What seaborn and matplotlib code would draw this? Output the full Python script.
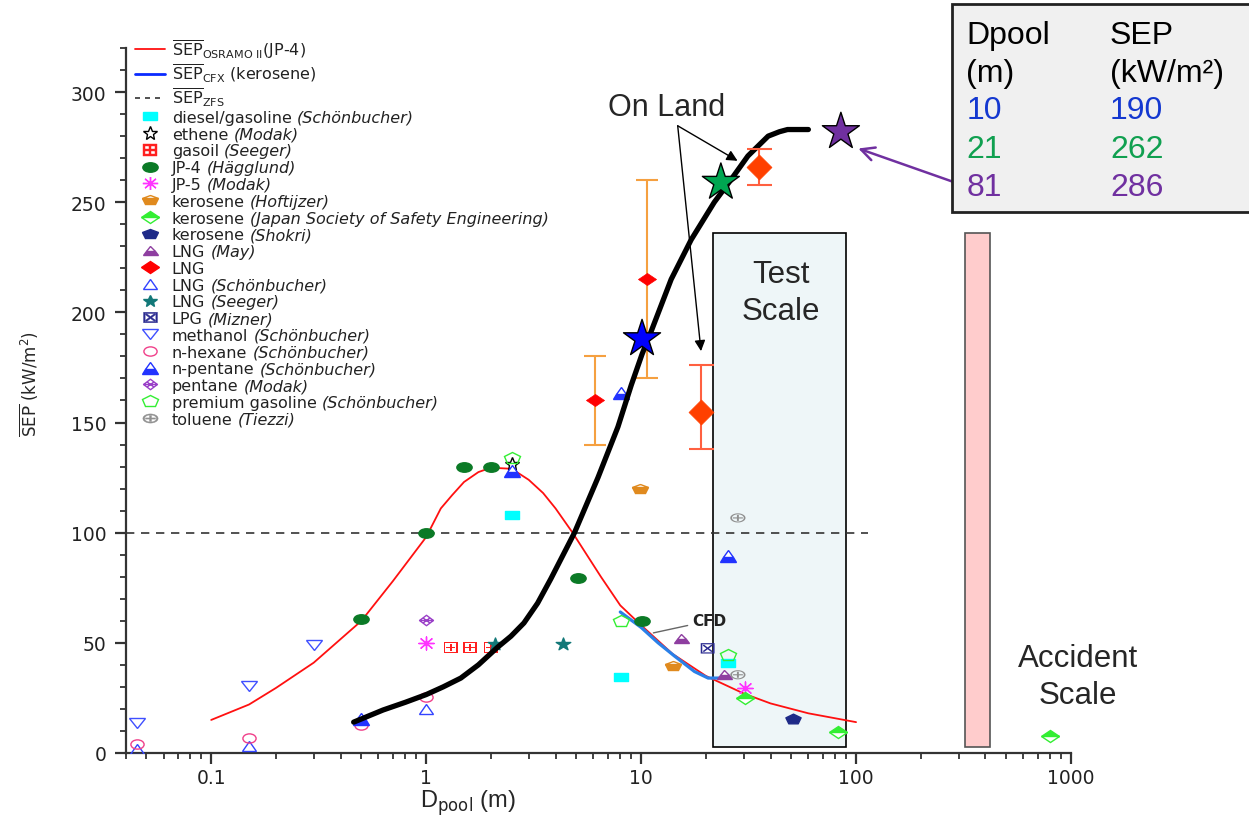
import numpy as np
import matplotlib
matplotlib.use("Agg")
import matplotlib.pyplot as plt
import seaborn as sns
from matplotlib.lines import Line2D
from matplotlib.markers import MarkerStyle
from matplotlib.patches import Rectangle
from matplotlib.path import Path
from matplotlib.transforms import Affine2D
from matplotlib.ticker import FixedLocator, LogLocator, NullFormatter, MultipleLocator

# ---- model curves ----
osramo_d = [0.1, 0.15, 0.2, 0.3, 0.5, 0.7, 1.0, 1.17, 1.32, 1.5, 1.75, 2.0, 2.5, 3.0, 3.5, 4.0,
            4.8, 6.5, 8.0, 10, 14, 20, 30, 40, 60, 100]
osramo_sep = [15, 22, 29.5, 41, 60, 78, 98, 111, 117, 123, 127.5, 129.5, 129, 124, 118, 111,
              100, 80, 67, 58, 45, 35, 27, 22.5, 18, 14]
cfx_d = [8.0, 10, 12, 14.3, 17.7, 20.5, 23]
cfx_sep = [64, 57, 50, 44, 37, 34, 34]
zfs_d = [0.04, 114]
zfs_sep = [100, 100]
trend_d = [0.46, 0.63, 0.8, 1.0, 1.2, 1.45, 1.75, 2.15, 2.48, 2.85, 3.3, 3.8, 4.9, 6.3, 7.8,
           9.0, 10.1, 11.1, 13.8, 17.1, 21.9, 26.3, 31.4, 39, 44, 48, 60]
trend_sep = [14, 19.5, 23, 26.5, 30, 34, 40, 48, 53, 59, 68, 79, 100, 125, 148,
             167, 181, 191, 215, 233, 250, 260.5, 271, 280, 282, 283, 283]

# ---- experimental data ----
diesel_d, diesel_sep = [2.5, 8.1, 25.5], [108, 34.5, 41]
ethene_d, ethene_sep = [2.5], [131]
gasoil_d, gasoil_sep = [1.3, 1.6, 2.0], [48, 48, 48]
jp4_d, jp4_sep = [0.5, 1.0, 1.5, 2.0, 5.1, 10.1], [61, 100, 130, 130, 79.5, 60]
jp5_d, jp5_sep = [1.0, 30.5], [50, 29.5]
hoft_d, hoft_sep = [9.9, 14.0], [120, 39.5]
jsse_d, jsse_sep = [30.5, 82, 800], [25, 9.5, 7.5]
shokri_d, shokri_sep = [51], [15.5]
may_d, may_sep = [15.3, 24.4], [52, 36]
lng_d, lng_sep = [6.1, 10.7], [160, 215]
lng_lo, lng_hi = [140, 170], [180, 260]
lng_sch_d, lng_sch_sep = [0.045, 0.15, 1.0], [2, 3, 20]
seeger_d, seeger_sep = [2.1, 4.35], [49.5, 49.5]
lpg_d, lpg_sep = [20.4], [47.5]
methanol_d, methanol_sep = [0.045, 0.15, 0.3], [13.5, 30.5, 49]
hexane_d, hexane_sep = [0.045, 0.15, 0.5, 1.0], [4, 7, 12.5, 25.5]
npent_d, npent_sep = [0.5, 2.5, 8.1, 25.5], [15.5, 128, 163.5, 89.5]
pentane_d, pentane_sep = [1.0], [60.5]
premium_d, premium_sep = [2.5, 8.1, 25.5], [134, 60, 44.5]
toluene_d, toluene_sep = [28.2, 28.2], [106.7, 35.5]

# LNG on land (overlay) and the three highlighted cases
onland_d, onland_sep = [19, 35.3], [155, 266]
onland_lo, onland_hi = [138, 258], [176, 274]
star_d, star_sep = [10.1, 23.5, 85], [188, 259, 282]
star_colors = ["#0000ff", "#00a651", "#7030a0"]

table_dpool = ["10", "21", "81"]
table_sep = ["190", "262", "286"]
table_colors = ["#1438d0", "#10a050", "#7030a0"]

test_scale = (21.7, 90)
accident_scale = (320, 419)

# ---- style ----
sns.set_style("ticks")
plt.rcParams["font.family"] = ["Liberation Sans", "DejaVu Sans"]
plt.rcParams["mathtext.fontset"] = "dejavusans"

fig, ax = plt.subplots(figsize=(12.49, 8.28), dpi=100)
fig.subplots_adjust(left=0.1006, right=0.8575, bottom=0.0894, top=0.9408)
ax.set_xscale("log")


def squash(m, fill="full", sy=0.65):
    return MarkerStyle(m, fillstyle=fill, transform=Affine2D().scale(1.0, sy))


pent_path = Path([(0, 1), (1, 0), (0, -1), (-1, 0), (0, 1),
                  (-0.5, 0.5), (0.5, -0.5), (0.5, 0.5), (-0.5, -0.5), (-1, 0), (1, 0)],
                 [Path.MOVETO, Path.LINETO, Path.LINETO, Path.LINETO, Path.CLOSEPOLY,
                  Path.MOVETO, Path.LINETO, Path.MOVETO, Path.LINETO, Path.MOVETO, Path.LINETO])

# scale regions
ax.add_patch(Rectangle((test_scale[0], 2.6), test_scale[1] - test_scale[0], 233.6,
                       facecolor="#eef6f8", edgecolor="black", lw=1.2, zorder=1))
ax.add_patch(Rectangle((accident_scale[0], 2.6), accident_scale[1] - accident_scale[0], 233.6,
                       facecolor="#ffcccc", edgecolor="#555555", lw=1.2, zorder=1))

# curves
sns.lineplot(x=zfs_d, y=zfs_sep, color="#333333", lw=1.2, linestyle=(0, (5, 4)),
             estimator=None, sort=False, ax=ax, zorder=2)
sns.lineplot(x=osramo_d, y=osramo_sep, color="#ff1010", lw=1.3,
             estimator=None, sort=False, ax=ax, zorder=3)
sns.lineplot(x=cfx_d, y=cfx_sep, color="#2a80e8", lw=2.3,
             estimator=None, sort=False, ax=ax, zorder=3)

# series: (d, sep, marker, ms, face, edge, name, author)
series = [
    (diesel_d, diesel_sep, squash("s", sy=0.62), 9.5, "#00ffff", "#00ffff",
     "diesel/gasoline", "(Schönbucher)"),
    (ethene_d, ethene_sep, squash("*", sy=0.9), 11, "none", "black", "ethene", "(Modak)"),
    (gasoil_d, gasoil_sep, squash(r"$\boxplus$", sy=0.8), 10, "#ff2020", "#ff2020",
     "gasoil", "(Seeger)"),
    (jp4_d, jp4_sep, squash("o", sy=0.62), 11, "#0b7a26", "#0b7a26", "JP-4", "(Hägglund)"),
    (jp5_d, jp5_sep, squash((8, 2, 0), sy=0.85), 11, "#ff33ff", "#ff33ff", "JP-5", "(Modak)"),
    (hoft_d, hoft_sep, squash("p", fill="bottom", sy=0.65), 12, "#e08a1e", "#e08a1e",
     "kerosene", "(Hoftijzer)"),
    (jsse_d, jsse_sep, squash("D", fill="top", sy=0.7), 8.7, "#33ee33", "#33ee33",
     "kerosene", "(Japan Society of Safety Engineering)"),
    (shokri_d, shokri_sep, squash("p", sy=0.67), 11.5, "#1e2a88", "#1e2a88",
     "kerosene", "(Shokri)"),
    (may_d, may_sep, squash("^", fill="bottom", sy=0.6), 10.8, "#8e3ea0", "#8e3ea0",
     "LNG", "(May)"),
    (None, None, squash("D", sy=0.67), 9.2, "#ff0000", "#ff0000", "LNG", ""),
    (lng_sch_d, lng_sch_sep, squash("^", sy=0.7), 9.5, "none", "#3344ff",
     "LNG", "(Schönbucher)"),
    (seeger_d, seeger_sep, squash("*", sy=0.85), 11, "#127878", "#127878", "LNG", "(Seeger)"),
    (lpg_d, lpg_sep, squash(r"$\boxtimes$", sy=0.75), 10, "#2a2a90", "#2a2a90",
     "LPG", "(Mizner)"),
    (methanol_d, methanol_sep, squash("v", sy=0.6), 12, "none", "#3f4fff",
     "methanol", "(Schönbucher)"),
    (hexane_d, hexane_sep, squash("o", sy=0.7), 9.5, "none", "#f0408a",
     "n-hexane", "(Schönbucher)"),
    (npent_d, npent_sep, squash("^", fill="bottom", sy=0.75), 12, "#2233ff", "#2233ff",
     "n-pentane", "(Schönbucher)"),
    (pentane_d, pentane_sep, squash(pent_path, sy=0.75), 10, "none", "#9a40c8",
     "pentane", "(Modak)"),
    (premium_d, premium_sep, squash("p", sy=0.7), 12, "none", "#33ee33",
     "premium gasoline", "(Schönbucher)"),
    (toluene_d, toluene_sep, squash(r"$\oplus$", sy=0.6), 11, "#909090", "#909090",
     "toluene", "(Tiezzi)"),
]

handles = [Line2D([], [], color="#ff1010", lw=1.3),
           Line2D([], [], color="#0a2aff", lw=2.0),
           Line2D([], [], color="#333333", lw=1.2, linestyle=(0, (3, 3)))]
labels = [r"$\overline{\mathrm{SEP}}_{\mathrm{OSRAMO\ II}}$(JP-4)",
          r"$\overline{\mathrm{SEP}}_{\mathrm{CFX}}$ (kerosene)",
          r"$\overline{\mathrm{SEP}}_{\mathrm{ZFS}}$"]
authors = ["", "", ""]

for d, sep, mk, ms, face, edge, name, author in series:
    is_text = isinstance(mk.get_marker(), str) and mk.get_marker().startswith("$")
    mew = 0.3 if is_text else 1.0
    if d is not None:
        if mk.get_fillstyle() == "full" and face != "none":
            sns.scatterplot(x=d, y=sep, marker=mk, s=ms ** 2, color=face,
                            edgecolor=edge if not is_text else "none", linewidth=mew,
                            ax=ax, zorder=4, legend=False)
        else:
            ax.plot(d, sep, linestyle="none", marker=mk, ms=ms, mfc=face, mec=edge,
                    mfcalt="white", mew=mew, zorder=4)
    handles.append(Line2D([], [], linestyle="none", marker=mk, ms=ms, mfc=face,
                          mec=edge, mfcalt="white", mew=mew))
    labels.append(name)
    authors.append(author)

# LNG with error bars
ax.errorbar(lng_d, lng_sep,
            yerr=[np.subtract(lng_sep, lng_lo), np.subtract(lng_hi, lng_sep)],
            fmt="none", ecolor="#f5a040", elinewidth=1.5, capsize=8, capthick=1.5, zorder=3)
sns.scatterplot(x=lng_d, y=lng_sep, marker=squash("D", sy=0.67), s=9.2 ** 2, color="#ff0000",
                edgecolor="#ff0000", linewidth=0.5, ax=ax, zorder=4, legend=False)

# CFD tag
ax.annotate("CFD", xy=(11.4, 54.5), xytext=(17.3, 60), fontsize=11, fontweight="bold",
            family="DejaVu Sans", color="#222222", va="center", ha="left",
            arrowprops=dict(arrowstyle="-", color="#666666", lw=1, shrinkA=1, shrinkB=0))

# black trend curve and highlighted cases
sns.lineplot(x=trend_d, y=trend_sep, color="black", lw=3.8,
             estimator=None, sort=False, ax=ax, zorder=5)
ax.errorbar(onland_d, onland_sep,
            yerr=[np.subtract(onland_sep, onland_lo), np.subtract(onland_hi, onland_sep)],
            fmt="none", ecolor="#ff6040", elinewidth=1.5, capsize=9, capthick=1.5, zorder=5)
sns.scatterplot(x=onland_d, y=onland_sep, marker="D", s=12.7 ** 2, color="#ff4000",
                edgecolor="#ff4000", linewidth=0.5, ax=ax, zorder=6, legend=False)
sns.scatterplot(x=star_d, y=star_sep, marker="*", s=28 ** 2, hue=table_dpool,
                palette=star_colors, edgecolor="black", linewidth=1.0,
                ax=ax, zorder=6, legend=False)

# annotations
ax.text(13.2, 289.5, "On Land", ha="center", va="baseline", fontsize=22)
for tip in [(28.1, 268.8), (19.0, 182.4)]:
    ax.annotate("", xy=tip, xytext=(14.8, 284.7),
                arrowprops=dict(arrowstyle="-|>", color="black", lw=1.0,
                                mutation_scale=16, shrinkA=0, shrinkB=0))
ax.text(44.9, 213.8, "Test", ha="center", va="baseline", fontsize=22.5)
ax.text(44.9, 196.8, "Scale", ha="center", va="baseline", fontsize=22.5)
ax.text(1078, 39.7, "Accident", ha="center", va="baseline", fontsize=22.5)
ax.text(1078, 22.7, "Scale", ha="center", va="baseline", fontsize=22.5)
ax.annotate("", xy=(102.4, 274.4), xytext=(284, 259.2), annotation_clip=False,
            arrowprops=dict(arrowstyle="->", color="#7030a0", lw=1.8,
                            mutation_scale=24, shrinkA=0, shrinkB=0))

# axes
ax.set_xlim(0.04, 1000)
ax.set_ylim(0, 320)
sns.despine(ax=ax)
for sp in ["left", "bottom"]:
    ax.spines[sp].set_color("#333333")
    ax.spines[sp].set_linewidth(1.6)
ax.xaxis.set_major_locator(FixedLocator([0.1, 1, 10, 100, 1000]))
ax.set_xticklabels(["0.1", "1", "10", "100", "1000"])
ax.xaxis.set_minor_locator(LogLocator(base=10, subs=np.arange(2, 10)))
ax.xaxis.set_minor_formatter(NullFormatter())
ax.yaxis.set_major_locator(MultipleLocator(50))
ax.yaxis.set_minor_locator(MultipleLocator(10))
ax.tick_params(which="major", length=8, width=1.6, color="#333333", labelsize=13.5,
               labelcolor="#222222", pad=6)
ax.tick_params(axis="x", which="major", pad=3)
ax.tick_params(which="minor", length=4.5, width=1.3, color="#333333")
for t in ax.get_xticklabels() + ax.get_yticklabels():
    t.set_family("DejaVu Sans")

ax.set_xlabel(r"D$_{\mathrm{pool}}$ (m)", fontsize=17)
ax.xaxis.set_label_coords(0.362, -0.048)
ax.set_ylabel(r"$\overline{\mathrm{SEP}}\ \mathrm{(kW/m^2)}$", fontsize=12)
ax.yaxis.set_label_coords(-0.09, 0.525)

leg_size = 11.5
leg = ax.legend(handles, labels, loc="upper left", bbox_to_anchor=(0.01, 1.016),
                frameon=False, prop={"family": "DejaVu Sans", "size": leg_size},
                labelcolor="#222222", handlelength=1.85, handletextpad=0.44,
                labelspacing=0.11, borderpad=0, borderaxespad=0)
leg.set_zorder(5)
# author names in italics right after each legend label
for txt, author in zip(leg.get_texts(), authors):
    if author:
        ax.annotate(author, xy=(1, 0), xycoords=txt, xytext=(3.8, 0),
                    textcoords="offset points", ha="left", va="bottom",
                    fontsize=leg_size, fontstyle="italic", family="DejaVu Sans",
                    color="#222222", annotation_clip=False, zorder=6)

# table box (figure coordinates)
fig.add_artist(Rectangle((951.7 / 1249, 1 - 213 / 828), 0.3, 208 / 828, transform=fig.transFigure,
                         facecolor="#f0f0f0", edgecolor="#222222", lw=2, zorder=2))
rows = [("Dpool", "SEP", "black"), ("(m)", "(kW/m²)", "black")]
rows += list(zip(table_dpool, table_sep, table_colors))
for (c1, c2, col), base in zip(rows, [44.3, 81.7, 119.3, 158.3, 196]):
    y = 1 - base / 828
    fig.text(966.5 / 1249, y, c1, color=col, fontsize=23, va="baseline", zorder=3)
    fig.text(1110 / 1249, y, c2, color=col, fontsize=23, va="baseline", zorder=3)

fig.canvas.draw()
fig.savefig("out.png", dpi=100)
